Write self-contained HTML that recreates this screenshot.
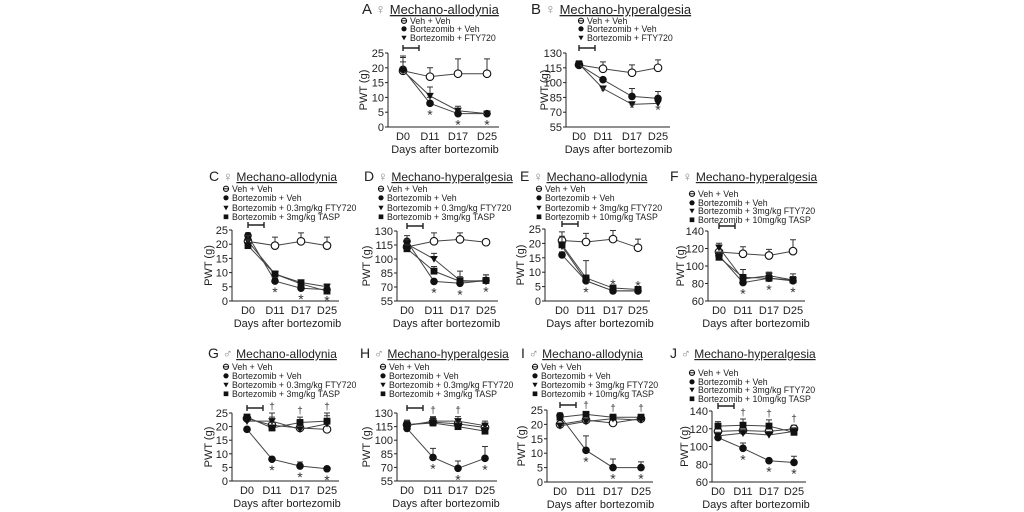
<!DOCTYPE html>
<html><head><meta charset="utf-8"><style>
html,body{margin:0;padding:0;background:#fff;}
svg{display:block;font-family:"Liberation Sans",Arial,sans-serif;}
</style></head><body>
<svg id="fig" width="1024" height="512" viewBox="0 0 1024 512"></svg>
<script>
const categories = ['D0','D11','D17','D25'];
// Panel A
const A_veh=[19,17,18,18], A_vehE=[3,3,5,5];
const A_bort=[19.5,8,4.5,4.5], A_bortE=[4,2,1,0.5];
const A_fty=[19,10.5,5.5,4.5], A_ftyE=[5,3,1.5,0.5];
// Panel B
const B_veh=[118,114,110,115], B_vehE=[4,7,8,8];
const B_bort=[118,103,86,84], B_bortE=[3,2,8,7];
const B_fty=[119,94,78,79], B_ftyE=[3,2,2,2];
// Panel C
const C_veh=[21,19.5,21,19.5], C_vehE=[2,3,3,3];
const C_bort=[23,7,4.5,4], C_bortE=[1,1,1,1];
const C_fty=[21,9.5,6.5,5], C_ftyE=[2,1,1,1];
const C_tasp=[19.5,9.5,6,3.5], C_taspE=[2,1,1,1];
// Panel D
const D_veh=[113,119,121,118], D_vehE=[5,9,7,1];
const D_bort=[119,76,74,77], D_bortE=[6,2,3,2];
const D_fty=[116,100,77,76], D_ftyE=[5,6,10,7];
const D_tasp=[111,87,76,77], D_taspE=[4,5,5,6];
// Panel E
const E_veh=[21,20.5,21.5,18.5], E_vehE=[3,3,3,3];
const E_bort=[16,7,3.5,3.5], E_bortE=[1,1,1,1];
const E_fty=[19,7,3.5,3.5], E_ftyE=[1,1,1,1];
const E_tasp=[19.5,8,4.5,4], E_taspE=[3,6,1,1];
// Panel F
const F_veh=[116,114,112,117], F_vehE=[8,8,7,13];
const F_bort=[112,81,86,83], F_bortE=[4,3,3,3];
const F_fty=[121,85,89,84], F_ftyE=[5,4,4,4];
const F_tasp=[110,87,86,84], F_taspE=[5,9,5,7];
// Panel G
const G_veh=[23,20.5,19.5,19], G_vehE=[1,3,3,3];
const G_bort=[19,8,5.5,4.5], G_bortE=[0.5,0.5,1.5,0.5];
const G_fty=[22,22,19,21], G_ftyE=[2,3,3,3];
const G_tasp=[23.5,19.5,21.5,22], G_taspE=[1,2,2,3];
// Panel H
const H_veh=[117,120,118,114], H_vehE=[5,5,5,5];
const H_bort=[113,81,69,80], H_bortE=[2,10,8,13];
const H_fty=[116,121,121,116], H_ftyE=[5,5,5,5];
const H_tasp=[117,119,115,110], H_taspE=[5,4,4,4];
// Panel I
const I_veh=[20,21.5,20.5,22], I_vehE=[1,1,1,1];
const I_bort=[23,11,5,5], I_bortE=[1,5,3,2];
const I_fty=[19.5,21,22,21.5], I_ftyE=[1,1,1,1];
const I_tasp=[22.5,23.5,22.5,22.5], I_taspE=[1,1,1,1];
// Panel J
const J_veh=[117,118,117,120], J_vehE=[4,4,4,4];
const J_bort=[110,98,84,82], J_bortE=[3,6,1,7];
const J_fty=[112,115,113,117], J_ftyE=[4,4,4,4];
const J_tasp=[123,124,123,116], J_taspE=[5,7,7,5];
// Tick labels
const ticksAllo=[0,5,10,15,20,25];
const ticksHyp=[55,70,85,100,115,130];
const ticksHyp2=[60,80,100,120,140];
// Annotations (category indices)
const starsStd=[1,2,3];
const daggers3=[1,2,3];
const daggers2=[1,2];

const NS='http://www.w3.org/2000/svg';
const svg=document.getElementById('fig');
function mk(tag,attrs,parent){const e=document.createElementNS(NS,tag);for(const k in attrs)e.setAttribute(k,attrs[k]);(parent||svg).appendChild(e);return e;}

function symbol(g,type,x,y,s,legend){
  let e;
  if(type==='veh'){
    e=mk('g',{},g);
    mk('circle',{cx:x,cy:y,r:s,fill:'#fff',stroke:'#111','stroke-width':1.1},e);
    if(legend)mk('line',{x1:x-s,y1:y,x2:x+s,y2:y,stroke:'#111','stroke-width':1},e);
  }
  else if(type==='bort'){e=mk('circle',{cx:x,cy:y,r:s,fill:'#111'},g);}
  else if(type==='fty'){e=mk('polygon',{points:`${x-s},${y-s*0.8} ${x+s},${y-s*0.8} ${x},${y+s}`,fill:'#111'},g);}
  else {e=mk('rect',{x:x-s*0.9,y:y-s*0.9,width:s*1.8,height:s*1.8,fill:'#111'},g);}
  return e;
}

const legendNames={veh:'Veh + Veh',bort:'Bortezomib + Veh'};
const L2=[192,201,211,220];
const L3=[370,379,388,397];

const panels=[
 {id:'A',sex:'♀',title:'Mechano-allodynia',tx:362,ty:14,tf:13,ax:388,top:53,bot:127,xs:[403,430,458,487],ticks:ticksAllo,lx:401,ly:[24,32,41],ylx:367,
  series:{veh:[A_veh,A_vehE],bort:[A_bort,A_bortE],fty:[A_fty,A_ftyE]},leg:{fty:'Bortezomib + FTY720'},stars:starsStd,starsAbove:[],dag:[]},
 {id:'B',sex:'♀',title:'Mechano-hyperalgesia',tx:531,ty:14,tf:13,ax:566,top:53,bot:127,xs:[579,603,632,658],ticks:ticksHyp,lx:578,ly:[24,32,41],ylx:548,
  series:{veh:[B_veh,B_vehE],bort:[B_bort,B_bortE],fty:[B_fty,B_ftyE]},leg:{fty:'Bortezomib + FTY720'},stars:starsStd,starsAbove:[],dag:[]},
 {id:'C',sex:'♀',title:'Mechano-allodynia',tx:209,ty:181,tf:12,ax:232,top:230,bot:301,xs:[248,275,301,327],ticks:ticksAllo,lx:223,ly:L2,ylx:212,
  series:{veh:[C_veh,C_vehE],bort:[C_bort,C_bortE],fty:[C_fty,C_ftyE],tasp:[C_tasp,C_taspE]},leg:{fty:'Bortezomib + 0.3mg/kg FTY720',tasp:'Bortezomib + 3mg/kg TASP'},stars:starsStd,starsAbove:[],dag:[]},
 {id:'D',sex:'♀',title:'Mechano-hyperalgesia',tx:364,ty:181,tf:12,ax:397,top:231,bot:301,xs:[407,434,460,486],ticks:ticksHyp,lx:378,ly:L2,ylx:370,
  series:{veh:[D_veh,D_vehE],bort:[D_bort,D_bortE],fty:[D_fty,D_ftyE],tasp:[D_tasp,D_taspE]},leg:{fty:'Bortezomib + 0.3mg/kg FTY720',tasp:'Bortezomib + 3mg/kg TASP'},stars:starsStd,starsAbove:[],dag:[]},
 {id:'E',sex:'♀',title:'Mechano-allodynia',tx:520,ty:181,tf:12,ax:545,top:229,bot:301,xs:[562,586,613,638],ticks:ticksAllo,lx:536,ly:L2,ylx:524,
  series:{veh:[E_veh,E_vehE],bort:[E_bort,E_bortE],fty:[E_fty,E_ftyE],tasp:[E_tasp,E_taspE]},leg:{fty:'Bortezomib + 3mg/kg FTY720',tasp:'Bortezomib + 10mg/kg TASP'},stars:[1],starsAbove:[2,3],dag:[]},
 {id:'F',sex:'♀',title:'Mechano-hyperalgesia',tx:670,ty:181,tf:12,ax:708,top:231,bot:301,xs:[719,743,769,793],ticks:ticksHyp2,lx:689,ly:[197,206,214,223],ylx:684,
  series:{veh:[F_veh,F_vehE],bort:[F_bort,F_bortE],fty:[F_fty,F_ftyE],tasp:[F_tasp,F_taspE]},leg:{fty:'Bortezomib + 3mg/kg FTY720',tasp:'Bortezomib + 10mg/kg TASP'},stars:starsStd,starsAbove:[],dag:[]},
 {id:'G',sex:'♂',title:'Mechano-allodynia',tx:208,ty:358,tf:12,ax:232,top:413,bot:481,xs:[247,272,300,327],ticks:ticksAllo,lx:223,ly:L3,ylx:212,
  series:{veh:[G_veh,G_vehE],bort:[G_bort,G_bortE],fty:[G_fty,G_ftyE],tasp:[G_tasp,G_taspE]},leg:{fty:'Bortezomib + 0.3mg/kg FTY720',tasp:'Bortezomib + 3mg/kg TASP'},stars:starsStd,starsAbove:[],dag:daggers3},
 {id:'H',sex:'♂',title:'Mechano-hyperalgesia',tx:360,ty:358,tf:12,ax:397,top:413,bot:481,xs:[407,433,458,485],ticks:ticksHyp,lx:380,ly:L3,ylx:370,
  series:{veh:[H_veh,H_vehE],bort:[H_bort,H_bortE],fty:[H_fty,H_ftyE],tasp:[H_tasp,H_taspE]},leg:{fty:'Bortezomib + 0.3mg/kg FTY720',tasp:'Bortezomib + 3mg/kg TASP'},stars:starsStd,starsAbove:[],dag:daggers2},
 {id:'I',sex:'♂',title:'Mechano-allodynia',tx:521,ty:358,tf:12,ax:547,top:410,bot:482,xs:[560,586,613,641],ticks:ticksAllo,lx:532,ly:L3,ylx:525,
  series:{veh:[I_veh,I_vehE],bort:[I_bort,I_bortE],fty:[I_fty,I_ftyE],tasp:[I_tasp,I_taspE]},leg:{fty:'Bortezomib + 3mg/kg FTY720',tasp:'Bortezomib + 10mg/kg TASP'},stars:starsStd,starsAbove:[],dag:daggers3},
 {id:'J',sex:'♂',title:'Mechano-hyperalgesia',tx:670,ty:358,tf:12,ax:712,top:411,bot:482,xs:[718,743,769,794],ticks:ticksHyp2,lx:689,ly:[376,385,393,402],ylx:688,
  series:{veh:[J_veh,J_vehE],bort:[J_bort,J_bortE],fty:[J_fty,J_ftyE],tasp:[J_tasp,J_taspE]},leg:{fty:'Bortezomib + 3mg/kg FTY720',tasp:'Bortezomib + 10mg/kg TASP'},stars:starsStd,starsAbove:[],dag:daggers3}
];

panels.forEach(p=>{
  const g=mk('g',{});
  
  
  const ymin=p.ticks[0], ymax=p.ticks[p.ticks.length-1];
  const yS=v=>p.bot-(v-ymin)/(ymax-ymin)*(p.bot-p.top);
  const xS=i=>p.xs[i];
  // title
  const t=mk('text',{x:p.tx,y:p.ty,'font-size':p.tf,fill:'#222'},g);
  
  
  const t1=mk('tspan',{'font-size':p.tf+2},t); t1.textContent=p.id+' ';
  const t2=mk('tspan',{fill:'#888','font-size':p.tf+1},t); t2.textContent=p.sex+' ';
  const t3=mk('tspan',{'text-decoration':'underline'},t); t3.textContent=p.title;
  // legend
  const keys=Object.keys(p.series);
  keys.forEach((k,i)=>{
    const y=p.ly[i];
    const s=symbol(g,k,p.lx+3,y-3.2,2.6,true);
    
    
    const lt=mk('text',{x:p.lx+9,y:y,'font-size':8.8,fill:'#222'},g);
    
    
    lt.textContent=legendNames[k]||p.leg[k];
  });
  // axes
  const ya=mk('line',{x1:p.ax,y1:p.top,x2:p.ax,y2:p.bot,stroke:'#222','stroke-width':1},g);
  
  
  const xa=mk('line',{x1:p.ax,y1:p.bot,x2:p.xs[3]+12,y2:p.bot,stroke:'#222','stroke-width':1},g);
  
  
  p.ticks.forEach(v=>{
    const y=yS(v);
    const tk=mk('line',{x1:p.ax-3,y1:y,x2:p.ax,y2:y,stroke:'#222'},g);
    
    
    const tl=mk('text',{x:p.ax-4,y:y+4,'font-size':11,'text-anchor':'end',fill:'#222'},g);
    
    
    tl.textContent=v;
  });
  categories.forEach((c,i)=>{
    const tl=mk('text',{x:xS(i),y:p.bot+13,'font-size':11,'text-anchor':'middle',fill:'#222'},g);
    
    
    tl.textContent=c;
  });
  const xt=mk('text',{x:(p.xs[0]+p.xs[3])/2,y:p.bot+26,'font-size':11,'text-anchor':'middle',fill:'#222'},g);
  
  
  xt.textContent='Days after bortezomib';
  const yt=mk('text',{x:p.ylx,y:(p.top+p.bot)/2,'font-size':11,'text-anchor':'middle',fill:'#222',transform:`rotate(-90 ${p.ylx} ${(p.top+p.bot)/2})`},g);
  
  
  yt.textContent='PWT (g)';
  // treatment bar
  const by=p.top-5;
  const bar=mk('path',{d:`M${p.xs[0]} ${by}H${p.xs[0]+16}M${p.xs[0]} ${by-3}V${by+3}M${p.xs[0]+16} ${by-3}V${by+3}`,stroke:'#222','stroke-width':1.4,fill:'none'},g);
  
  
  // series
  keys.forEach(k=>{
    const [vals,errs]=p.series[k];
    const sg=mk('g',{},g);
    
    
    const ln=mk('polyline',{points:vals.map((v,i)=>xS(i)+','+yS(v)).join(' '),fill:'none',stroke:'#444','stroke-width':1},sg);
    
    
    vals.forEach((v,i)=>{
      const x=xS(i), y=yS(v), ye=yS(v+errs[i]);
      const eb=mk('path',{d:`M${x} ${y}V${ye}M${x-3} ${ye}H${x+3}`,stroke:'#333','stroke-width':1,fill:'none'},sg);
      
      
    });
    vals.forEach((v,i)=>{
      const m=symbol(sg,k,xS(i),yS(v),3.8,false);
      
      
    });
  });
  // significance stars
  const bv=p.series.bort[0];
  p.stars.forEach(i=>{
    const st=mk('text',{x:xS(i),y:yS(bv[i])+16,'font-size':14,'text-anchor':'middle',fill:'#333'},g);
    
    
    st.textContent='*';
  });
  p.starsAbove.forEach(i=>{
    let mx=-1e9; keys.forEach(k=>{if(k!=='veh'){const [v,e]=p.series[k];mx=Math.max(mx,v[i]+e[i]);}});
    const st=mk('text',{x:xS(i),y:yS(mx)+4,'font-size':14,'text-anchor':'middle',fill:'#333'},g);
    
    
    st.textContent='*';
  });
  p.dag.forEach(i=>{
    let mx=-1e9; keys.forEach(k=>{const [v,e]=p.series[k];if(k!=='bort')mx=Math.max(mx,v[i]+e[i]);});
    const d=mk('text',{x:xS(i),y:yS(mx)-3,'font-size':10,'text-anchor':'middle',fill:'#333'},g);
    
    
    d.textContent='†';
  });
});
</script>
</body></html>
